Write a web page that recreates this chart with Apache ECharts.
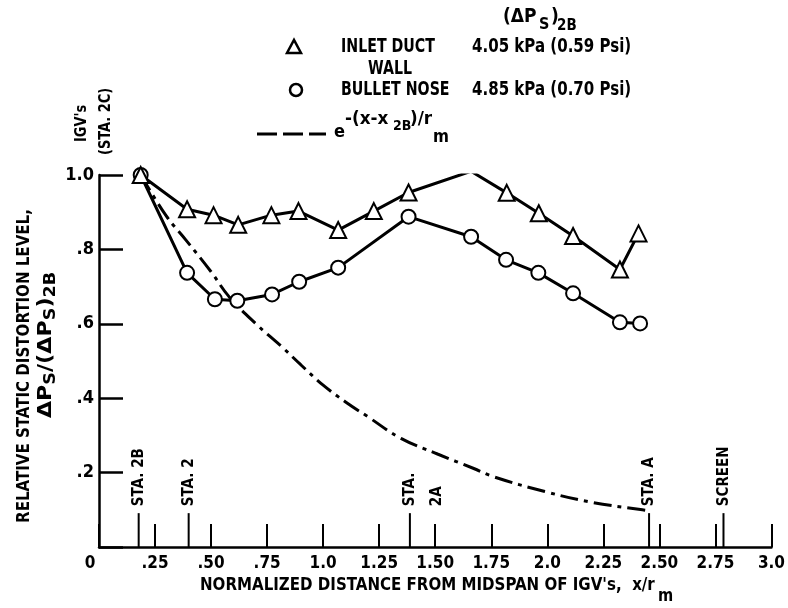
<!DOCTYPE html>
<html>
<head>
<meta charset="utf-8">
<script src="https://cdn.jsdelivr.net/npm/echarts@6/dist/echarts.min.js"></script>
<style>html,body{margin:0;padding:0;background:#fff;}#c{width:788px;height:608px;}</style>
</head>
<body>
<div id="c"></div>
<script>
// ---- data ----
var inletX = [0.186, 0.393, 0.511, 0.621, 0.769, 0.890, 1.067, 1.226, 1.381, 1.660, 1.819, 1.962, 2.115, 2.324, 2.407];
var inletY = [1.00, 0.908, 0.892, 0.866, 0.892, 0.903, 0.852, 0.903, 0.953, 1.010, 0.952, 0.897, 0.836, 0.746, 0.843];
var noseX = [0.186, 0.393, 0.517, 0.617, 0.772, 0.893, 1.067, 1.381, 1.660, 1.816, 1.960, 2.115, 2.324, 2.414];
var noseY = [1.00, 0.737, 0.666, 0.662, 0.679, 0.713, 0.751, 0.888, 0.834, 0.772, 0.737, 0.682, 0.604, 0.601];
var expX = [0.186, 0.30, 0.388, 0.50, 0.58, 0.70, 0.816, 0.90, 1.00, 1.10, 1.20, 1.347, 1.51, 1.672, 1.76, 1.989, 2.20, 2.424, 2.45];
var expY = [1.00, 0.89, 0.825, 0.74, 0.673, 0.60, 0.538, 0.49, 0.435, 0.39, 0.35, 0.292, 0.25, 0.211, 0.189, 0.149, 0.12, 0.100, 0.098];
var stationX = [0.177, 0.40, 1.387, 2.454, 2.786];
var stationLabels = ['STA. 2B', 'STA. 2', 'STA.\n2A', 'STA. A', 'SCREEN'];
var xTickLabels = ['0', '.25', '.50', '.75', '1.0', '1.25', '1.50', '1.75', '2.0', '2.25', '2.50', '2.75', '3.0'];
var yTickLabels = ['', '.2', '.4', '.6', '.8', '1.0'];

var FONT = "'DejaVu Sans Condensed', 'Liberation Sans', sans-serif";
function zip(a, b) { return a.map(function (v, i) { return [v, b[i]]; }); }

var chart = echarts.init(document.getElementById('c'), null, { renderer: 'canvas' });

function txt(text, x, y, size, opts) {
  opts = opts || {};
  return {
    type: 'text', x: x, y: y, rotation: opts.rotation || 0, z: 10,
    scaleX: opts.sx || 0.9, scaleY: 1,
    style: {
      text: text, fill: '#000', fontFamily: FONT, fontWeight: 'bold', fontSize: size,
      align: opts.align || 'left', verticalAlign: opts.va || 'middle', rich: opts.rich
    }
  };
}

var graphics = [
  // legend header
  txt('(\u0394P', 503, 17, 19, { sx: 1 }),
  txt('S', 539, 25, 16, { sx: 1 }),
  txt(')', 551, 17, 19, { sx: 1 }),
  txt('2B', 557, 26, 15, { sx: 1 }),
  // triangle entry
  { type: 'polygon', shape: { points: [[287, 53], [301, 53], [294, 40]] }, style: { fill: '#fff', stroke: '#000', lineWidth: 2.5 } },
  txt('INLET DUCT', 341, 47, 19, { sx: 0.83 }),
  txt('WALL', 368, 69, 19, { sx: 0.83 }),
  txt('4.05 kPa (0.59 Psi)', 472, 47, 19, { sx: 0.88 }),
  // circle entry
  { type: 'circle', shape: { cx: 296, cy: 90, r: 6 }, style: { fill: '#fff', stroke: '#000', lineWidth: 2.5 } },
  txt('BULLET NOSE', 341, 90, 19, { sx: 0.83 }),
  txt('4.85 kPa (0.70 Psi)', 472, 90, 19, { sx: 0.88 }),
  // exp entry
  { type: 'line', shape: { x1: 257, y1: 134, x2: 326, y2: 134 }, style: { stroke: '#000', lineWidth: 3, lineDash: [20, 6] } },
  txt('e', 334, 132, 18, { sx: 1 }),
  txt('-(x-x', 345, 120, 17, { sx: 1.1 }),
  txt('2B', 393, 126, 14, { sx: 1 }),
  txt(')/r', 410, 120, 17, { sx: 1.1 }),
  txt('m', 433, 138, 17, { sx: 1 }),
  // y axis titles
  txt('RELATIVE STATIC DISTORTION LEVEL,', 24, 366, 18, { rotation: Math.PI / 2, align: 'center', sx: 0.93 }),
  txt('{a|\u0394P}{b|S}{a|/(\u0394P}{b|S}{a|)}{b|2B}', 46, 345, 19, {
    rotation: Math.PI / 2, align: 'center', sx: 1.3,
    rich: { a: { fontSize: 19, fontFamily: FONT, fontWeight: 'bold' }, b: { fontSize: 15, fontFamily: FONT, fontWeight: 'bold', padding: [10, 0, 0, 0] } }
  }),
  txt("IGV's", 82, 142, 16, { rotation: Math.PI / 2, align: 'left' }),
  txt('(STA. 2C)', 106, 155, 16, { rotation: Math.PI / 2, align: 'left' }),
  // x axis title
  txt("NORMALIZED DISTANCE FROM MIDSPAN OF IGV's,  x/r", 200, 585, 18, { sx: 0.93 }),
  txt('m', 658, 596, 18)
];

var option = {
  backgroundColor: '#fff',
  animation: false,
  grid: { left: 99, right: 11, top: 175, bottom: 61, containLabel: false },
  xAxis: {
    type: 'value', min: 0, max: 3, interval: 0.25,
    axisLine: { show: true, onZero: false, lineStyle: { color: '#000', width: 2.5 } },
    axisTick: { show: true, inside: true, length: 23, lineStyle: { color: '#000', width: 2 } },
    splitLine: { show: false },
    axisLabel: {
      color: '#000', fontFamily: FONT, fontWeight: 'bold', fontSize: 17, margin: 8,
      formatter: function (v, i) { return i === 0 ? '{z|0}' : xTickLabels[i]; },
      rich: { z: { padding: [0, 18, 0, 0], fontFamily: FONT, fontWeight: 'bold', fontSize: 17 } }
    }
  },
  yAxis: {
    type: 'value', min: 0, max: 1.0, interval: 0.2,
    axisLine: { show: true, onZero: false, lineStyle: { color: '#000', width: 2.5 } },
    axisTick: { show: true, inside: true, length: 24, lineStyle: { color: '#000', width: 2.5 } },
    splitLine: { show: false },
    axisLabel: {
      color: '#000', fontFamily: FONT, fontWeight: 'bold', fontSize: 18, margin: 5,
      formatter: function (v, i) { return yTickLabels[i]; }
    }
  },
  graphic: graphics,
  series: [
    {
      type: 'custom', name: 'stations', z: 1,
      data: stationX.map(function (x) { return [x]; }),
      renderItem: function (params, api) {
        var x = api.value(0);
        var p0 = api.coord([x, 0]);
        var p1 = api.coord([x, 0.091]);
        return {
          type: 'group', children: [
            { type: 'line', shape: { x1: p0[0], y1: p0[1], x2: p1[0], y2: p1[1] }, style: { stroke: '#000', lineWidth: 2 } },
            {
              type: 'text', x: p0[0] - 13, y: p1[1] - 7, rotation: Math.PI / 2,
              style: { text: stationLabels[params.dataIndex], fill: '#000', fontFamily: FONT, fontWeight: 'bold', fontSize: 15, align: 'left', verticalAlign: 'top', lineHeight: 27 }
            }
          ]
        };
      }
    },
    {
      type: 'line', name: 'exp', data: zip(expX, expY), smooth: 0.4, showSymbol: false, z: 2,
      lineStyle: { color: '#000', width: 3, type: [18, 6, 4, 6] }
    },
    {
      type: 'line', name: 'BULLET NOSE', data: zip(noseX, noseY), z: 3,
      symbol: 'emptyCircle', symbolSize: 14,
      lineStyle: { color: '#000', width: 3 },
      itemStyle: { color: '#000', borderColor: '#000', borderWidth: 2.5 }
    },
    {
      type: 'line', name: 'INLET DUCT WALL', data: zip(inletX, inletY), z: 4,
      symbol: 'emptyTriangle', symbolSize: 16,
      lineStyle: { color: '#000', width: 3 },
      itemStyle: { color: '#000', borderColor: '#000', borderWidth: 2.5 }
    }
  ]
};
chart.setOption(option);
</script>
</body>
</html>
